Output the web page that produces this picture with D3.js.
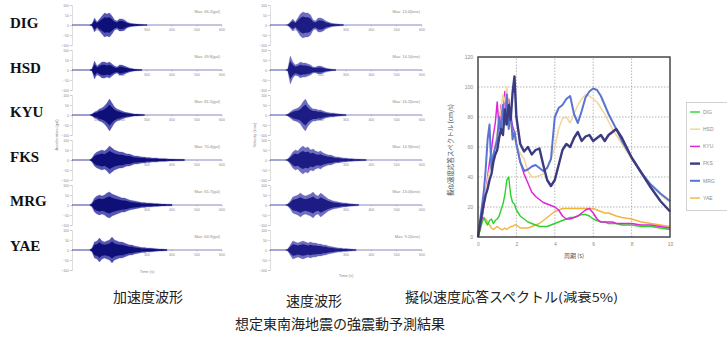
<!DOCTYPE html>
<html>
<head>
<meta charset="utf-8">
<script src="https://cdn.jsdelivr.net/npm/d3@7"></script>
<style>
  body { margin: 0; background: #fff; }
  svg { display: block; font-family: "Noto Sans CJK JP", "Noto Sans", sans-serif; }
  .tiny { font-family: "Liberation Sans", Arial, sans-serif; fill: #8a8a8a; }
</style>
</head>
<body>
<svg id="chart" width="727" height="342"></svg>
<script>
// stations
const stations = ['DIG', 'HSD', 'KYU', 'FKS', 'MRG', 'YAE'];

// waveform envelope samples (every 2 s)
const waveTimes = [0, 2, 4, 6, 8, 10, 12, 14, 16, 18, 20, 22, 24, 26, 28, 30, 32, 34, 36, 38, 40,
  42, 44, 46, 48, 50, 52, 54, 56, 58, 60, 62, 64, 66, 68, 70, 72, 74, 76, 78, 80, 82, 84, 86, 88, 90];

// acceleration envelopes (gal)
const accDIG = [0, 0, 0, 0, 0, 0, 0, 0, 5, 35, 15, 30, 45, 60, 55, 60, 45, 25, 20, 30, 30, 25, 15, 10, 8, 6, 5, 4, 3, 2.5, 2];
const accHSD = [0, 0, 0, 0, 0, 0, 0, 0, 5, 45, 20, 30, 40, 40, 35, 40, 30, 20, 15, 25, 25, 20, 15, 10, 8, 5, 4, 3, 2.5];
const accKYU = [0, 0, 0, 0, 0, 0, 0, 0, 5, 15, 20, 30, 35, 45, 60, 80, 60, 40, 30, 25, 20, 15, 12, 10, 8, 5, 5, 4, 3, 2.5];
const accFKS = [0, 0, 0, 0, 0, 0, 0, 0, 10, 30, 40, 45, 50, 45, 55, 70, 60, 50, 45, 40, 40, 35, 30, 30, 25, 20, 20, 18, 15, 15,
  12, 12, 10, 10, 10, 8, 8, 8, 6, 5, 5, 4.5, 4, 4, 3.5, 3];
const accMRG = [0, 0, 0, 0, 0, 0, 0, 0, 10, 35, 45, 50, 45, 50, 60, 65, 55, 50, 45, 40, 35, 35, 30, 25, 22, 20, 18, 15, 12, 12,
  10, 10, 9, 8, 8, 6, 5, 5, 4, 4, 3];
const accYAE = [0, 0, 0, 0, 0, 0, 0, 0, 10, 40, 45, 60, 45, 40, 45, 50, 65, 50, 45, 40, 40, 35, 30, 25, 25, 20, 18, 15, 12, 12,
  10, 10, 9, 8, 6, 5, 5, 4, 3];

// velocity envelopes (kine)
const velDIG = [0, 0, 0, 0, 0, 0, 0, 2.5, 15, 30, 15, 35, 55, 65, 60, 60, 50, 25, 20, 35, 35, 30, 20, 15, 10, 8, 6, 5, 4, 3];
const velHSD = [0, 0, 0, 0, 0, 0, 0, 5, 70, 40, 25, 30, 40, 35, 35, 30, 25, 15, 15, 20, 20, 15, 10, 8, 5, 4, 3];
const velKYU = [0, 0, 0, 0, 0, 0, 0, 5, 15, 25, 30, 35, 45, 65, 80, 55, 40, 30, 30, 25, 25, 20, 15, 12, 10, 10, 8, 6, 5, 4, 3];
const velFKS = [0, 0, 0, 0, 0, 0, 0, 5, 20, 40, 50, 45, 60, 70, 60, 65, 50, 55, 45, 40, 45, 35, 30, 25, 25, 20, 15, 15, 12, 10,
  10, 8, 8, 6, 5, 5, 4, 4, 3];
const velMRG = [0, 0, 0, 0, 0, 0, 0, 5, 20, 40, 45, 50, 60, 50, 45, 50, 55, 65, 50, 45, 60, 50, 40, 30, 25, 20, 18, 15, 12, 10,
  10, 8, 6, 5, 4, 3];
const velYAE = [0, 0, 0, 0, 0, 0, 0, 5, 25, 45, 40, 35, 40, 45, 40, 35, 40, 35, 35, 30, 30, 25, 25, 20, 18, 15, 12, 10, 10, 8,
  8, 6, 5, 4, 3];

const accMaxText = ['Max: 66.2(gal)', 'Max: 49.8(gal)', 'Max: 81.5(gal)', 'Max: 70.4(gal)', 'Max: 65.7(gal)', 'Max: 64.9(gal)'];
const velMaxText = ['Max: 13.4(kine)', 'Max: 14.1(kine)', 'Max: 16.2(kine)', 'Max: 14.3(kine)', 'Max: 13.0(kine)', 'Max: 9.2(kine)'];

// pseudo velocity response spectra (h=5%)
const periods = [0, 0.1, 0.2, 0.3, 0.4, 0.5, 0.6, 0.7, 0.8, 0.9, 1.0, 1.1, 1.2, 1.3, 1.4, 1.5, 1.6, 1.7, 1.8, 1.9, 2.0,
  2.2, 2.4, 2.6, 2.8, 3.0, 3.2, 3.4, 3.6, 3.8, 4.0, 4.2, 4.4, 4.6, 4.8, 5.0, 5.2, 5.4, 5.6, 5.8, 6.0,
  6.2, 6.4, 6.6, 6.8, 7.0, 7.2, 7.5, 8.0, 8.5, 9.0, 9.5, 10.0];
const psvDIG = [0, 4, 9, 13, 10, 8, 11, 12, 9, 11, 12, 14, 18, 22, 28, 38, 40, 28, 23, 22, 18,
  14, 12, 10, 9, 8, 7, 7, 7, 8, 9, 10, 11, 12, 13, 13, 14, 15, 15, 14, 12,
  11, 10, 10, 9, 9, 9, 8, 8, 7, 7, 6, 5];
const psvHSD = [0, 8, 15, 22, 30, 38, 45, 48, 55, 62, 70, 78, 85, 95, 90, 100, 85, 75, 70, 66, 60,
  56, 52, 44, 40, 40, 41, 42, 46, 52, 60, 72, 79, 80, 76, 82, 88, 92, 95, 94, 92,
  90, 86, 82, 77, 72, 68, 62, 52, 43, 35, 28, 23];
const psvKYU = [0, 6, 12, 20, 30, 40, 50, 58, 68, 76, 90, 72, 88, 80, 97, 86, 92, 80, 74, 70, 62,
  50, 42, 36, 30, 27, 25, 23, 22, 21, 20, 18, 14, 12, 12, 13, 14, 16, 18, 19, 16,
  12, 10, 10, 10, 10, 9, 9, 9, 8, 8, 7, 6];
const psvFKS = [0, 8, 15, 22, 28, 32, 38, 42, 50, 55, 58, 66, 72, 68, 85, 75, 88, 78, 96, 107, 80,
  62, 57, 60, 55, 58, 59, 48, 38, 34, 38, 48, 58, 62, 60, 66, 70, 64, 67, 68, 64,
  66, 68, 64, 68, 70, 72, 66, 53, 43, 33, 24, 17];
const psvMRG = [0, 10, 20, 30, 45, 65, 75, 45, 55, 60, 65, 80, 70, 88, 75, 95, 72, 85, 65, 70, 62,
  50, 44, 45, 47, 48, 46, 44, 46, 52, 80, 86, 88, 92, 94, 82, 76, 84, 93, 97, 99,
  98, 94, 88, 82, 77, 72, 64, 53, 43, 35, 29, 24];
const psvYAE = [0, 6, 10, 13, 12, 10, 8, 6, 5, 6, 7, 6, 5, 5, 6, 5, 6, 7, 7, 8, 8,
  6, 6, 6, 7, 8, 9, 11, 13, 15, 17, 18, 19, 19, 19, 19, 19, 19, 19, 19, 19,
  18, 17, 16, 16, 15, 14, 13, 12, 10, 9, 8, 7];

const spectrumTicksX = [0, 2, 4, 6, 8, 10];
const spectrumTicksY = [0, 20, 40, 60, 80, 100, 120];
const waveTicksX = [0, 20, 40, 60, 80, 100, 120];
const waveTicksY = [-100, -50, 0, 50, 100];

const seriesColor = {DIG: '#2ed12e', HSD: '#f3d59c', KYU: '#e024d8', FKS: '#3b3b82', MRG: '#5a74d2', YAE: '#f3b43c'};
const seriesWidth = {DIG: 1.4, HSD: 1.5, KYU: 1.5, FKS: 2.4, MRG: 2, YAE: 1.4};

const svg = d3.select('#chart');

// ---------- waveform columns ----------
const rowScale = d3.scalePoint().domain(stations).range([25, 250]);
const labelScale = d3.scalePoint().domain(stations).range([28, 251]);

function drawWaveColumn(x0, x1, series, maxTexts, yTitle, xTitleY, tone) {
  const g = svg.append('g');
  const x = d3.scaleLinear().domain([0, 120]).range([x0, x1]);
  stations.forEach((s, i) => {
    const zero = rowScale(s);
    const y = d3.scaleLinear().domain([-100, 100]).range([zero + 20, zero - 20]);
    const p = g.append('g');
    // y axis
    const ax = p.append('g')
      .attr('transform', `translate(${x0},0)`)
      .call(d3.axisLeft(y).tickValues(waveTicksY).tickSize(2).tickPadding(1));
    ax.select('.domain').attr('stroke', '#c8c8c8').attr('stroke-width', 0.6);
    ax.selectAll('line').attr('stroke', '#bbb').attr('stroke-width', 0.6);
    ax.selectAll('text').attr('class', 'tiny').style('font-size', '3.5px');
    // x tick labels below zero line
    p.selectAll('.xt').data(waveTicksX.slice(1)).enter().append('text')
      .attr('class', 'tiny')
      .attr('x', d => x(d)).attr('y', zero + 6)
      .attr('text-anchor', 'middle')
      .style('font-size', '3.5px')
      .text(d => d * 5);
    p.selectAll('.xm').data(waveTicksX).enter().append('line')
      .attr('x1', d => x(d)).attr('x2', d => x(d))
      .attr('y1', zero).attr('y2', zero + 1.5)
      .attr('stroke', '#aaa').attr('stroke-width', 0.5);
    // baseline trace
    p.append('line')
      .attr('x1', x(0)).attr('x2', x(120))
      .attr('y1', zero).attr('y2', zero)
      .attr('stroke', '#5656a8').attr('stroke-width', 0.7);
    const vals = series[i];
    const pts = vals.map((v, k) => ({t: waveTimes[k], v}));
    const area = d3.area().x(d => x(d.t)).y0(d => y(-d.v)).y1(d => y(d.v));
    p.append('path').datum(pts)
      .attr('d', area)
      .attr('fill', tone.outer).attr('fill-opacity', 0.8)
      .attr('stroke', tone.outer).attr('stroke-width', 0.5).attr('stroke-opacity', 0.5);
    const inner = d3.area().x(d => x(d.t)).y0(d => y(-d.v * 0.65)).y1(d => y(d.v * 0.65));
    p.append('path').datum(pts)
      .attr('d', inner)
      .attr('fill', tone.inner);
    p.append('text')
      .attr('class', 'tiny')
      .attr('x', x1 - 2).attr('y', zero - 12)
      .attr('text-anchor', 'end')
      .style('font-size', '4px')
      .text(maxTexts[i]);
  });
  g.append('text')
    .attr('class', 'tiny')
    .attr('transform', `translate(${x0 - 14},135) rotate(-90)`)
    .attr('text-anchor', 'middle')
    .style('font-size', '4px')
    .text(yTitle);
  g.append('text')
    .attr('class', 'tiny')
    .attr('x', (x0 + x1) / 2).attr('y', xTitleY)
    .attr('text-anchor', 'middle')
    .style('font-size', '4px')
    .text('Time (s)');
}

drawWaveColumn(72, 222, [accDIG, accHSD, accKYU, accFKS, accMRG, accYAE], accMaxText,
  'Acceleration (gal)', 273, {outer: '#2b2ba0', inner: '#0f0f78'});
drawWaveColumn(270, 422, [velDIG, velHSD, velKYU, velFKS, velMRG, velYAE], velMaxText,
  'Velocity (kine)', 277, {outer: '#4a4ab0', inner: '#1c1c84'});

// station labels
svg.selectAll('.st').data(stations).enter().append('text')
  .attr('x', 10).attr('y', d => labelScale(d))
  .style('font-family', '"Liberation Serif", "Times New Roman", serif')
  .style('font-weight', 'bold').style('font-size', '15px')
  .attr('fill', '#111')
  .text(d => d);

// ---------- response spectrum ----------
const sx = d3.scaleLinear().domain([0, 10]).range([478, 670]);
const sy = d3.scaleLinear().domain([0, 120]).range([237, 57]);
const sg = svg.append('g');

sg.selectAll('.gx').data(spectrumTicksX.slice(1, -1)).enter().append('line')
  .attr('x1', d => sx(d)).attr('x2', d => sx(d))
  .attr('y1', sy(0)).attr('y2', sy(120))
  .attr('stroke', '#9a9a9a').attr('stroke-width', 0.7).attr('stroke-dasharray', '1.5,1.5');
sg.selectAll('.gy').data(spectrumTicksY.slice(1, -1)).enter().append('line')
  .attr('x1', sx(0)).attr('x2', sx(10))
  .attr('y1', d => sy(d)).attr('y2', d => sy(d))
  .attr('stroke', '#9a9a9a').attr('stroke-width', 0.7).attr('stroke-dasharray', '1.5,1.5');

const drawOrder = ['YAE', 'DIG', 'KYU', 'HSD', 'MRG', 'FKS'];
const psv = {DIG: psvDIG, HSD: psvHSD, KYU: psvKYU, FKS: psvFKS, MRG: psvMRG, YAE: psvYAE};
const line = d3.line().x((d, i) => sx(periods[i])).y(d => sy(d));
drawOrder.forEach(s => {
  sg.append('path').datum(psv[s])
    .attr('d', line)
    .attr('fill', 'none')
    .attr('stroke', seriesColor[s])
    .attr('stroke-width', seriesWidth[s])
    .attr('stroke-linejoin', 'round');
});

sg.append('rect')
  .attr('x', sx(0)).attr('y', sy(120))
  .attr('width', sx(10) - sx(0)).attr('height', sy(0) - sy(120))
  .attr('fill', 'none').attr('stroke', '#3a3a3a').attr('stroke-width', 1.4);

const axB = sg.append('g').attr('transform', `translate(0,${sy(0)})`)
  .call(d3.axisBottom(sx).tickValues(spectrumTicksX).tickSize(0).tickPadding(5));
axB.select('.domain').remove();
axB.selectAll('text').attr('class', 'tiny').style('font-size', '5px').attr('fill', '#666');
const axL = sg.append('g').attr('transform', `translate(${sx(0)},0)`)
  .call(d3.axisLeft(sy).tickValues(spectrumTicksY).tickSize(0).tickPadding(5));
axL.select('.domain').remove();
axL.selectAll('text').attr('class', 'tiny').style('font-size', '5px').attr('fill', '#666');

sg.append('text')
  .attr('transform', `translate(453,150) rotate(-90)`)
  .attr('text-anchor', 'middle')
  .style('font-size', '6.5px').attr('fill', '#555')
  .text('擬似速度応答スペクトル (cm/s)');
sg.append('text')
  .attr('x', sx(5)).attr('y', 258)
  .attr('text-anchor', 'middle')
  .style('font-size', '6px').attr('fill', '#555')
  .text('周期 (s)');

// legend
const lg = svg.append('g');
lg.append('rect').attr('x', 686.5).attr('y', 102.5).attr('width', 45).attr('height', 108)
  .attr('fill', '#fff').attr('stroke', '#c8c8c8').attr('stroke-width', 0.8);
const legendY = d3.scalePoint().domain(stations).range([112, 198]);
stations.forEach(s => {
  lg.append('line')
    .attr('x1', 690).attr('x2', 700)
    .attr('y1', legendY(s)).attr('y2', legendY(s))
    .attr('stroke', seriesColor[s]).attr('stroke-width', seriesWidth[s]);
  lg.append('text')
    .attr('class', 'tiny')
    .attr('x', 703).attr('y', legendY(s) + 1.8)
    .style('font-size', '5px').attr('fill', '#777')
    .text(s);
});

// captions
const captions = [
  {text: '加速度波形', x: 148, y: 302},
  {text: '速度波形', x: 314, y: 306},
  {text: '想定東南海地震の強震動予測結果', x: 340, y: 329}
];
svg.selectAll('.cap').data(captions).enter().append('text')
  .attr('x', d => d.x).attr('y', d => d.y)
  .attr('text-anchor', 'middle')
  .style('font-size', '14px').attr('fill', '#222')
  .text(d => d.text);

const specCap = svg.append('text')
  .attr('x', 405).attr('y', 302)
  .style('font-size', '14px').attr('fill', '#222');
specCap.append('tspan').text('擬似速度応答スペクトル');
specCap.append('tspan').style('font-size', '12px').attr('textLength', 60).attr('lengthAdjust', 'spacingAndGlyphs')
  .text('(減衰5%)');
</script>
</body>
</html>
